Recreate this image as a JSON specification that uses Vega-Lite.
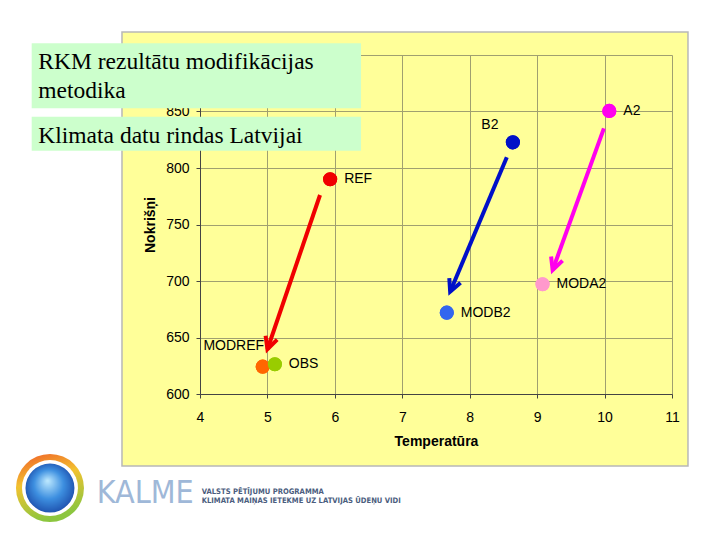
{
  "$schema": "https://vega.github.io/schema/vega-lite/v6.json",
  "width": 472,
  "height": 339,
  "autosize": {"type": "none"},
  "padding": {"left": 200, "top": 55, "right": 48, "bottom": 146},
  "background": "#ffff99",
  "config": {
    "view": {"stroke": null},
    "axis": {
      "labelFont": "Liberation Sans",
      "labelFontSize": 14,
      "labelColor": "#000000",
      "titleFont": "Liberation Sans",
      "titleFontSize": 14,
      "titleFontWeight": "bold",
      "titleColor": "#000000",
      "domainColor": "#444444",
      "domainWidth": 1,
      "tickColor": "#444444",
      "tickSize": 4,
      "gridColor": "#a0a070",
      "gridWidth": 1,
      "gridOpacity": 1,
      "labelFlush": false
    }
  },
  "datasets": {
    "points": [
      {"name": "REF", "temperature": 5.93, "precipitation": 790.0},
      {"name": "B2", "temperature": 8.64, "precipitation": 822.7},
      {"name": "A2", "temperature": 10.07, "precipitation": 850.5},
      {"name": "MODA2", "temperature": 9.08, "precipitation": 697.1},
      {"name": "MODB2", "temperature": 7.66, "precipitation": 672.0},
      {"name": "MODREF", "temperature": 4.93, "precipitation": 624.2},
      {"name": "OBS", "temperature": 5.11, "precipitation": 626.3}
    ],
    "arrows": [
      {"from": "REF", "to": "MODREF", "t0": 5.78, "p0": 776.1, "t1": 5.0, "p1": 639.6, "angle": 18.9},
      {"from": "B2", "to": "MODB2", "t0": 8.55, "p0": 809.5, "t1": 7.71, "p1": 690.5, "angle": 22.9},
      {"from": "A2", "to": "MODA2", "t0": 9.99, "p0": 835.1, "t1": 9.23, "p1": 709.7, "angle": 20.0}
    ]
  },
  "layer": [
    {
      "data": {"name": "points"},
      "mark": {"type": "circle", "size": 200, "opacity": 1},
      "encoding": {
        "x": {
          "field": "temperature", "type": "quantitative",
          "scale": {"domain": [4, 11], "nice": false, "zero": false},
          "axis": {"title": "Temperatūra", "values": [4, 5, 6, 7, 8, 9, 10, 11], "format": "d", "grid": true, "labelPadding": 12, "titlePadding": 10}
        },
        "y": {
          "field": "precipitation", "type": "quantitative",
          "scale": {"domain": [600, 900], "nice": false, "zero": false},
          "axis": {"title": "Nokrišņi", "values": [600, 650, 700, 750, 800, 850, 900], "format": "d", "labelExpr": "datum.value == 900 ? '' : datum.label", "grid": true, "labelPadding": 7, "titlePadding": 8}
        },
        "color": {
          "field": "name", "type": "nominal", "legend": null,
          "scale": {
            "domain": ["REF", "B2", "A2", "MODA2", "MODB2", "MODREF", "OBS"],
            "range": ["#f00000", "#0010c8", "#ff00ee", "#ff99cc", "#3366ee", "#ff6600", "#99cc00"]
          }
        }
      }
    },
    {
      "data": {"values": [{}]},
      "mark": {"type": "rect", "fill": "#ffffff", "strokeWidth": 0},
      "encoding": {
        "x": {"datum": -10}, "x2": {"datum": 2.843},
        "y": {"datum": 0}, "y2": {"datum": 2000}
      }
    },
    {
      "data": {"values": [{}]},
      "mark": {"type": "rect", "fill": "#ffffff", "strokeWidth": 0},
      "encoding": {
        "x": {"datum": 11.237}, "x2": {"datum": 30},
        "y": {"datum": 0}, "y2": {"datum": 2000}
      }
    },
    {
      "data": {"values": [{}]},
      "mark": {"type": "rect", "fill": "#ffffff", "strokeWidth": 0},
      "encoding": {
        "x": {"datum": -10}, "x2": {"datum": 30},
        "y": {"datum": 920.4}, "y2": {"datum": 2000}
      }
    },
    {
      "data": {"values": [{}]},
      "mark": {"type": "rect", "fill": "#ffffff", "strokeWidth": 0},
      "encoding": {
        "x": {"datum": -10}, "x2": {"datum": 30},
        "y": {"datum": 0}, "y2": {"datum": 536.3}
      }
    },
    {
      "data": {"values": [{}]},
      "mark": {"type": "rect", "filled": false, "stroke": "#b8b8b8", "strokeWidth": 1.5},
      "encoding": {
        "x": {"datum": 2.843}, "x2": {"datum": 11.237},
        "y": {"datum": 536.3}, "y2": {"datum": 920.4}
      }
    },
    {
      "data": {"name": "arrows"},
      "mark": {"type": "rule", "strokeWidth": 4, "strokeCap": "butt"},
      "encoding": {
        "x": {"field": "t0", "type": "quantitative"},
        "y": {"field": "p0", "type": "quantitative"},
        "x2": {"field": "t1"},
        "y2": {"field": "p1"},
        "color": {"field": "from", "type": "nominal", "legend": null}
      }
    },
    {
      "data": {"name": "arrows"},
      "mark": {"type": "point", "filled": false, "shape": "M -0.5 -1 L 0 0 L 0.5 -1", "size": 600, "strokeWidth": 4, "strokeJoin": "miter", "opacity": 1},
      "encoding": {
        "x": {"field": "t1", "type": "quantitative"},
        "y": {"field": "p1", "type": "quantitative"},
        "angle": {"field": "angle", "type": "quantitative", "scale": null},
        "color": {"field": "from", "type": "nominal", "legend": null}
      }
    },
    {
      "data": {"name": "points"},
      "mark": {"type": "circle", "size": 200, "opacity": 1},
      "encoding": {
        "x": {"field": "temperature", "type": "quantitative"},
        "y": {"field": "precipitation", "type": "quantitative"},
        "color": {"field": "name", "type": "nominal", "legend": null}
      }
    },
    {
      "data": {"name": "points"},
      "transform": [{"filter": "datum.name != 'B2' && datum.name != 'MODREF'"}],
      "mark": {"type": "text", "align": "left", "baseline": "middle", "dx": 14, "font": "Liberation Sans", "fontSize": 14, "color": "#000000"},
      "encoding": {
        "x": {"field": "temperature", "type": "quantitative"},
        "y": {"field": "precipitation", "type": "quantitative"},
        "text": {"field": "name"}
      }
    },
    {
      "data": {"name": "points"},
      "transform": [{"filter": "datum.name == 'B2'"}],
      "mark": {"type": "text", "align": "center", "baseline": "middle", "dx": -23, "dy": -17, "font": "Liberation Sans", "fontSize": 14, "color": "#000000"},
      "encoding": {
        "x": {"field": "temperature", "type": "quantitative"},
        "y": {"field": "precipitation", "type": "quantitative"},
        "text": {"field": "name"}
      }
    },
    {
      "data": {"name": "points"},
      "transform": [{"filter": "datum.name == 'MODREF'"}],
      "mark": {"type": "text", "align": "center", "baseline": "middle", "dx": -29, "dy": -21, "font": "Liberation Sans", "fontSize": 14, "color": "#000000"},
      "encoding": {
        "x": {"field": "temperature", "type": "quantitative"},
        "y": {"field": "precipitation", "type": "quantitative"},
        "text": {"field": "name"}
      }
    },
    {
      "data": {"values": [{}]},
      "mark": {"type": "rect", "fill": "#ccffcc", "strokeWidth": 0},
      "encoding": {
        "x": {"datum": 1.504}, "x2": {"datum": 6.388},
        "y": {"datum": 852.8}, "y2": {"datum": 910.4}
      }
    },
    {
      "data": {"values": [{}]},
      "mark": {"type": "rect", "fill": "#ccffcc", "strokeWidth": 0},
      "encoding": {
        "x": {"datum": 1.504}, "x2": {"datum": 6.388},
        "y": {"datum": 815.3}, "y2": {"datum": 845.4}
      }
    },
    {
      "data": {"values": [{}]},
      "mark": {"type": "text", "text": "RKM rezultātu modifikācijas", "align": "left", "baseline": "alphabetic", "font": "Liberation Serif", "fontSize": 23.5, "color": "#000000"},
      "encoding": {"x": {"datum": 1.602}, "y": {"datum": 887.3}}
    },
    {
      "data": {"values": [{}]},
      "mark": {"type": "text", "text": "metodika", "align": "left", "baseline": "alphabetic", "font": "Liberation Serif", "fontSize": 23.5, "color": "#000000"},
      "encoding": {"x": {"datum": 1.602}, "y": {"datum": 861.7}}
    },
    {
      "data": {"values": [{}]},
      "mark": {"type": "text", "text": "Klimata datu rindas Latvijai", "align": "left", "baseline": "alphabetic", "font": "Liberation Serif", "fontSize": 23.5, "color": "#000000"},
      "encoding": {"x": {"datum": 1.602}, "y": {"datum": 822.4}}
    },
    {
      "data": {"values": [{}]},
      "mark": {"type": "point", "shape": "circle", "filled": true, "size": 4624, "opacity": 1, "strokeWidth": 0,
        "fill": {"gradient": "linear", "x1": 0, "y1": 0, "x2": 0.3, "y2": 1, "stops": [{"offset": 0, "color": "#f05a28"}, {"offset": 0.45, "color": "#f2c230"}, {"offset": 1, "color": "#8cc63f"}]}},
      "encoding": {"x": {"datum": 1.775}, "y": {"datum": 516.8}}
    },
    {
      "data": {"values": [{}]},
      "mark": {"type": "point", "shape": "circle", "filled": true, "size": 3136, "opacity": 1, "strokeWidth": 0, "fill": "#ffffff"},
      "encoding": {"x": {"datum": 1.775}, "y": {"datum": 516.8}}
    },
    {
      "data": {"values": [{}]},
      "mark": {"type": "point", "shape": "circle", "filled": true, "size": 2400, "opacity": 1, "strokeWidth": 0,
        "fill": {"gradient": "radial", "x1": 0.45, "y1": 0.35, "r1": 0, "x2": 0.5, "y2": 0.5, "r2": 0.6, "stops": [{"offset": 0, "color": "#bfeaff"}, {"offset": 0.5, "color": "#3d8fe0"}, {"offset": 1, "color": "#1540a0"}]}},
      "encoding": {"x": {"datum": 1.775}, "y": {"datum": 516.8}}
    },
    {
      "data": {"values": [{}]},
      "mark": {"type": "text", "text": "KALME", "align": "left", "baseline": "alphabetic", "font": "Liberation Sans Narrow, DejaVu Sans Condensed, sans-serif", "fontSize": 32, "color": "#9fb8d8"},
      "encoding": {"x": {"datum": 2.468}, "y": {"datum": 503.3}}
    },
    {
      "data": {"values": [{}]},
      "mark": {"type": "text", "text": "VALSTS PĒTĪJUMU PROGRAMMA", "align": "left", "baseline": "alphabetic", "font": "Liberation Sans Narrow, DejaVu Sans Condensed, sans-serif", "fontWeight": "bold", "fontSize": 7.6, "color": "#4b5d7e"},
      "encoding": {"x": {"datum": 4.025}, "y": {"datum": 511.5}}
    },
    {
      "data": {"values": [{}]},
      "mark": {"type": "text", "text": "KLIMATA MAIŅAS IETEKME UZ LATVIJAS ŪDEŅU VIDI", "align": "left", "baseline": "alphabetic", "font": "Liberation Sans Narrow, DejaVu Sans Condensed, sans-serif", "fontWeight": "bold", "fontSize": 7.6, "color": "#4b5d7e"},
      "encoding": {"x": {"datum": 4.025}, "y": {"datum": 503.8}}
    }
  ]
}
